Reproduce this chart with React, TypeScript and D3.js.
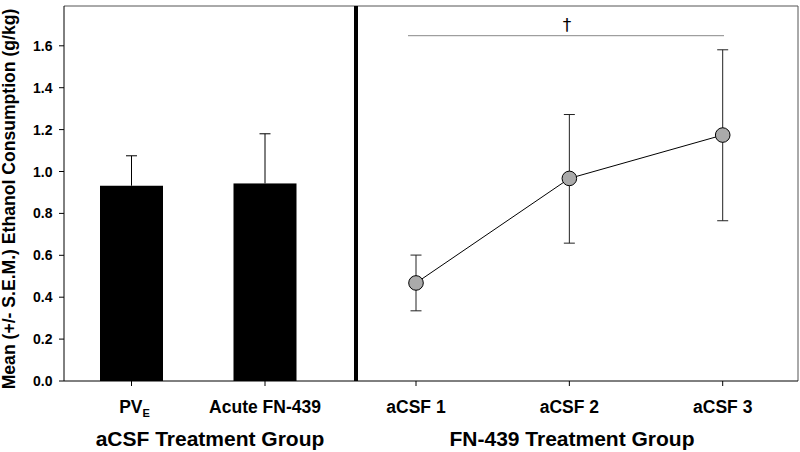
import React from "react";
import * as d3 from "d3";

const barCategories = ["PV_E", "Acute FN-439"];
const barValues = [0.932, 0.943];
const barErrors = [0.143, 0.237];

const lineCategories = ["aCSF 1", "aCSF 2", "aCSF 3"];
const lineValues = [0.468, 0.967, 1.174];
const lineErrUp = [0.133, 0.305, 0.407];
const lineErrDown = [0.133, 0.309, 0.409];

const yTicks = [0, 0.2, 0.4, 0.6, 0.8, 1.0, 1.2, 1.4, 1.6];

const W = 800, H = 452;
const left = 64, right = 798, top = 6, bottom = 381;
const divider = 356;
const FONT = "Liberation Sans, Arial, sans-serif";

export default function App() {
  const y = d3.scaleLinear().domain([0, 1.79]).range([bottom, top]);
  const xBar = d3.scalePoint<string>().domain(barCategories).range([131.5, 265]);
  const xLine = d3.scalePoint<string>().domain(lineCategories).range([416, 722.7]);
  const barW = 63;
  const cap = 5.5;
  const linePath = d3.line<number>()
    .x((_, i) => xLine(lineCategories[i])!)
    .y((d) => y(d))(lineValues) || "";

  return (
    <svg width={W} height={H} style={{ position: "absolute", left: 0, top: 0, background: "#fff" }}>
      <rect x={0} y={0} width={W} height={H} fill="#fff" />
      {/* frame */}
      <line x1={left} y1={top} x2={right} y2={top} stroke="#555" strokeWidth={1} />
      <line x1={right} y1={top} x2={right} y2={bottom} stroke="#555" strokeWidth={1} />
      {/* bars */}
      {barCategories.map((c, i) => (
        <g key={c}>
          <line x1={xBar(c)!} x2={xBar(c)!} y1={y(barValues[i])} y2={y(barValues[i] + barErrors[i])} stroke="#000" strokeWidth={1} />
          <line x1={xBar(c)! - cap} x2={xBar(c)! + cap} y1={y(barValues[i] + barErrors[i])} y2={y(barValues[i] + barErrors[i])} stroke="#000" strokeWidth={1} />
          <rect x={xBar(c)! - barW / 2} y={y(barValues[i])} width={barW} height={bottom - y(barValues[i])} fill="#000" />
        </g>
      ))}
      {/* divider */}
      <line x1={divider} x2={divider} y1={top} y2={bottom} stroke="#000" strokeWidth={4} />
      {/* significance */}
      <line x1={408} x2={724} y1={35.7} y2={35.7} stroke="#888" strokeWidth={1} />
      <text x={567} y={31} textAnchor="middle" fontFamily="DejaVu Sans, sans-serif" fontSize={17} fill="#000">†</text>
      {/* line series */}
      <path d={linePath} fill="none" stroke="#000" strokeWidth={1} />
      {lineCategories.map((c, i) => {
        const cx = xLine(c)!;
        const yt = y(lineValues[i] + lineErrUp[i]);
        const yb = y(lineValues[i] - lineErrDown[i]);
        return (
          <g key={c}>
            <line x1={cx} x2={cx} y1={yt} y2={yb} stroke="#222" strokeWidth={1} />
            <line x1={cx - cap} x2={cx + cap} y1={yt} y2={yt} stroke="#222" strokeWidth={1} />
            <line x1={cx - cap} x2={cx + cap} y1={yb} y2={yb} stroke="#222" strokeWidth={1} />
            <circle cx={cx} cy={y(lineValues[i])} r={7.3} fill="#aaa" stroke="#000" strokeWidth={1} />
          </g>
        );
      })}
      {/* axes */}
      <line x1={left} y1={top} x2={left} y2={bottom} stroke="#000" strokeWidth={1} />
      <line x1={left} y1={bottom} x2={right} y2={bottom} stroke="#000" strokeWidth={1} />
      {yTicks.map((t) => (
        <g key={t}>
          <line x1={left - 5} x2={left} y1={y(t)} y2={y(t)} stroke="#000" />
          <text x={52.5} y={y(t) + 5} textAnchor="end" fontFamily={FONT} fontSize={14} fontWeight="bold">{t.toFixed(1)}</text>
        </g>
      ))}
      {barCategories.map((c) => (
        <line key={c} x1={xBar(c)!} x2={xBar(c)!} y1={bottom} y2={bottom + 5} stroke="#000" />
      ))}
      {lineCategories.map((c) => (
        <line key={c} x1={xLine(c)!} x2={xLine(c)!} y1={bottom} y2={bottom + 5} stroke="#000" />
      ))}
      {/* x tick labels */}
      <text x={xBar(barCategories[0])! + 3} y={413} textAnchor="middle" fontFamily={FONT} fontSize={17.5} fontWeight="bold">
        PV<tspan fontSize={11} dy={4}>E</tspan>
      </text>
      <text x={xBar(barCategories[1])!} y={413} textAnchor="middle" fontFamily={FONT} fontSize={17.5} fontWeight="bold">{barCategories[1]}</text>
      {lineCategories.map((c) => (
        <text key={c} x={xLine(c)!} y={413} textAnchor="middle" fontFamily={FONT} fontSize={17.5} fontWeight="bold">{c}</text>
      ))}
      <text x={210} y={446} textAnchor="middle" fontFamily={FONT} fontSize={21} fontWeight="bold">aCSF Treatment Group</text>
      <text x={572} y={446} textAnchor="middle" fontFamily={FONT} fontSize={21} fontWeight="bold">FN-439 Treatment Group</text>
      <text transform={`translate(15,199) rotate(-90)`} textAnchor="middle" fontFamily={FONT} fontSize={17.6} fontWeight="bold">Mean (+/- S.E.M.) Ethanol Consumption (g/kg)</text>
    </svg>
  );
}
